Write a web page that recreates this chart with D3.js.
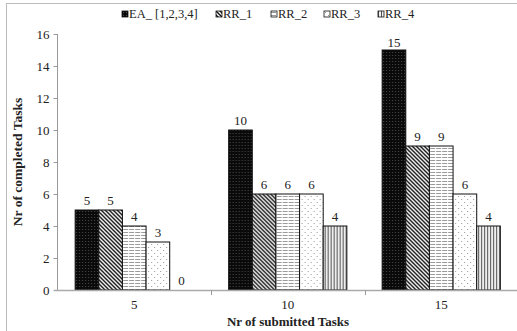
<!DOCTYPE html>
<html>
<head>
<meta charset="utf-8">
<script src="https://cdn.jsdelivr.net/npm/d3@7/dist/d3.min.js"></script>
<style>
  html, body { margin: 0; padding: 0; background: #fff; }
  svg { display: block; }
  text { font-family: "Liberation Serif", "Times New Roman", serif; fill: #222; }
</style>
</head>
<body>
<svg id="chart" width="517" height="331"></svg>
<script>
// Completed tasks per number of submitted tasks, one series per scheduler
const categories = ["5", "10", "15"];
const seriesNames = ["EA_ [1,2,3,4]", "RR_1", "RR_2", "RR_3", "RR_4"];
const eaValues  = [5, 10, 15];
const rr1Values = [5, 6, 9];
const rr2Values = [4, 6, 9];
const rr3Values = [3, 6, 6];
const rr4Values = [0, 4, 4];
const yTicks = [0, 2, 4, 6, 8, 10, 12, 14, 16];

const seriesValues = [eaValues, rr1Values, rr2Values, rr3Values, rr4Values];
const patternIds = ["pEA", "pRR1", "pRR2", "pRR3", "pRR4"];

const svg = d3.select("#chart");
const defs = svg.append("defs");

// Fill patterns
{
  const p = defs.append("pattern").attr("id", "pEA").attr("patternUnits", "userSpaceOnUse")
    .attr("width", 3).attr("height", 3);
  p.append("rect").attr("width", 3).attr("height", 3).attr("fill", "#0a0a0a");
  p.append("rect").attr("x", 1).attr("y", 1).attr("width", 1).attr("height", 1).attr("fill", "#4a4a4a");
}
{
  const p = defs.append("pattern").attr("id", "pRR1").attr("patternUnits", "userSpaceOnUse")
    .attr("width", 4).attr("height", 4);
  p.append("rect").attr("width", 4).attr("height", 4).attr("fill", "#fff");
  p.append("path").attr("d", "M-1,-1 L5,5 M-1,3 L1,5 M3,-1 L5,1")
    .attr("stroke", "#111").attr("stroke-width", 1.4);
}
{
  const p = defs.append("pattern").attr("id", "pRR2").attr("patternUnits", "userSpaceOnUse")
    .attr("width", 6).attr("height", 3);
  p.append("rect").attr("width", 6).attr("height", 3).attr("fill", "#fff");
  p.append("rect").attr("x", 0).attr("y", 1).attr("width", 5).attr("height", 1).attr("fill", "#9a9a9a");
}
{
  const p = defs.append("pattern").attr("id", "pRR3").attr("patternUnits", "userSpaceOnUse")
    .attr("width", 6).attr("height", 6);
  p.append("rect").attr("width", 6).attr("height", 6).attr("fill", "#fff");
  p.append("rect").attr("x", 1).attr("y", 1).attr("width", 1).attr("height", 1).attr("fill", "#999");
  p.append("rect").attr("x", 4).attr("y", 4).attr("width", 1).attr("height", 1).attr("fill", "#999");
}
{
  const p = defs.append("pattern").attr("id", "pRR4").attr("patternUnits", "userSpaceOnUse")
    .attr("width", 3).attr("height", 3);
  p.append("rect").attr("width", 3).attr("height", 3).attr("fill", "#eee");
  p.append("rect").attr("x", 0).attr("y", 0).attr("width", 1).attr("height", 3).attr("fill", "#555");
}

// Outer frame
svg.append("rect").attr("x", 6.5).attr("y", 3.5).attr("width", 530).attr("height", 340)
  .attr("fill", "none").attr("stroke", "#bbb");

const x0 = d3.scaleBand().domain(categories).range([57.5, 518])
  .paddingInner(0.23).paddingOuter(0.115);
const x1 = d3.scaleBand().domain(seriesNames).range([0, x0.bandwidth()]);
const y = d3.scaleLinear().domain([0, 16]).range([290, 34]);

// Bars
const groups = svg.append("g").selectAll("g").data(categories).join("g")
  .attr("transform", d => `translate(${x0(d)},0)`);

groups.each(function (cat, ci) {
  const g = d3.select(this);
  seriesNames.forEach((name, si) => {
    const v = seriesValues[si][ci];
    if (v > 0) {
      g.append("rect")
        .attr("x", x1(name)).attr("y", y(v))
        .attr("width", x1.bandwidth()).attr("height", y(0) - y(v))
        .attr("fill", `url(#${patternIds[si]})`)
        .attr("stroke", "#111").attr("stroke-width", 1);
    }
    g.append("text")
      .attr("x", x1(name) + x1.bandwidth() / 2)
      .attr("y", y(v) - (v >= 15 ? 3 : 5))
      .attr("text-anchor", "middle")
      .attr("font-size", 13)
      .text(v);
  });
});

// Y axis
const yAxis = svg.append("g").attr("transform", "translate(57.5,0)")
  .call(d3.axisLeft(y).tickValues(yTicks).tickSize(4).tickPadding(4));
yAxis.selectAll("text").attr("font-size", 13).attr("font-family", "Liberation Serif").attr("fill", "#222");
yAxis.selectAll("line").attr("stroke", "#999");
yAxis.select(".domain").attr("stroke", "#999").attr("d", `M0,${y(16)}V${y(0)}`);

// X axis: baseline with ticks between groups
const xAxisG = svg.append("g");
xAxisG.append("line").attr("x1", 54).attr("x2", 517).attr("y1", 290.5).attr("y2", 290.5)
  .attr("stroke", "#aaa").attr("stroke-width", 1.5);
const boundaries = categories.slice(1).map(c => x0(c) - x0.step() * x0.paddingInner() / 2);
xAxisG.selectAll("line.tick").data(boundaries).join("line").attr("class", "tick")
  .attr("x1", d => Math.round(d) + 0.5).attr("x2", d => Math.round(d) + 0.5)
  .attr("y1", 290).attr("y2", 295).attr("stroke", "#999");
xAxisG.selectAll("text").data(categories).join("text")
  .attr("x", d => x0(d) + x0.bandwidth() / 2).attr("y", 309)
  .attr("text-anchor", "middle").attr("font-size", 13).text(d => d);

// Axis titles
svg.append("text").attr("x", 288).attr("y", 326).attr("text-anchor", "middle")
  .attr("font-size", 13).attr("font-weight", "bold").text("Nr of submitted Tasks");
svg.append("text").attr("transform", "translate(22,162) rotate(-90)").attr("text-anchor", "middle")
  .attr("font-size", 13.5).attr("font-weight", "bold").text("Nr of completed Tasks");

// Legend
const legendX = [122, 216, 271, 324, 378];
const legend = svg.append("g").selectAll("g").data(seriesNames).join("g")
  .attr("transform", (d, i) => `translate(${legendX[i]},11)`);
legend.append("rect").attr("width", 6).attr("height", 6)
  .attr("fill", (d, i) => `url(#${patternIds[i]})`).attr("stroke", "#111").attr("stroke-width", 0.8);
legend.append("text").attr("x", 7).attr("y", 7).attr("font-size", 12.5).text(d => d);
</script>
</body>
</html>
